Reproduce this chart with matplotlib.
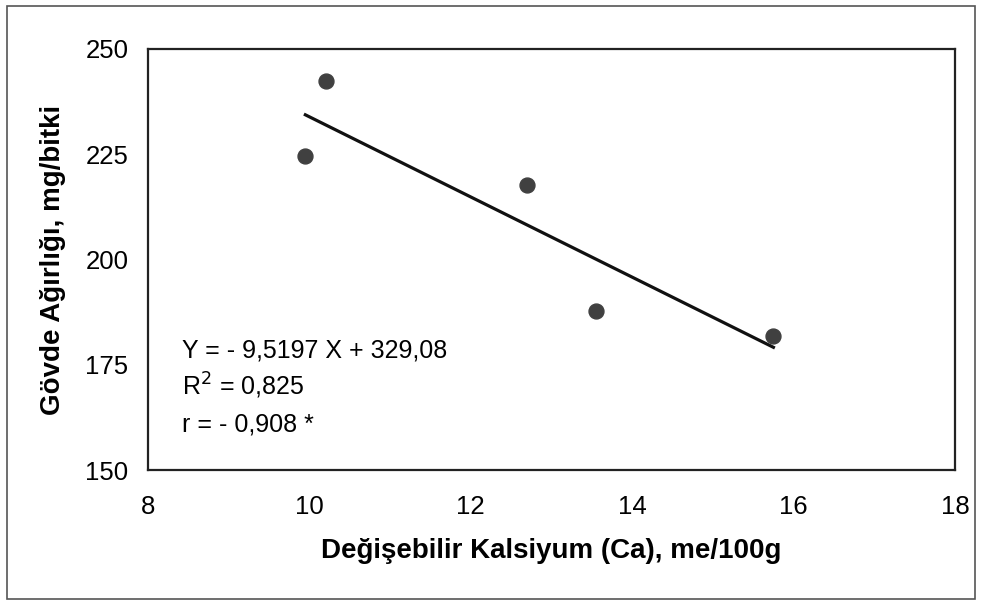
import matplotlib.pyplot as plt
from matplotlib.patches import Rectangle
import numpy as np

# data
ca = [9.95, 10.2, 12.7, 13.55, 15.75]
weight = [224.5, 242.3, 217.7, 187.7, 181.9]
slope = -9.5197
intercept = 329.08
x_ticks = [8, 10, 12, 14, 16, 18]
y_ticks = [150, 175, 200, 225, 250]
stats_lines = ["Y = - 9,5197 X + 329,08", "R$^2$ = 0,825", "r = - 0,908 *"]

plt.rcParams["font.family"] = ["Liberation Sans", "DejaVu Sans"]

fig = plt.figure(figsize=(9.82, 6.05), dpi=100)

# border round the whole figure
fig.patches.append(Rectangle((0.007, 0.01), 0.986, 0.98, transform=fig.transFigure,
                             fill=False, edgecolor="#555555", linewidth=1.2))

ax = fig.add_axes([0.1507, 0.2231, 0.8218, 0.696])

# points
ax.scatter(ca, weight, s=115, color="#404040", zorder=3)

# regression line
line_x = np.array([min(ca), max(ca)])
ax.plot(line_x, slope * line_x + intercept, color="#111111", linewidth=2.3)

# equation text, one line at a time
for txt, y in zip(stats_lines, [176.7, 167.7, 159.1]):
    ax.text(8.42, y, txt, fontsize=18, va="baseline", ha="left")

ax.set_xlim(8, 18)
ax.set_ylim(150, 250)
ax.set_xticks(x_ticks)
ax.set_yticks(y_ticks)
ax.tick_params(axis="both", labelsize=18.5, length=0)
ax.tick_params(axis="x", pad=18)
ax.tick_params(axis="y", pad=14)

for spine in ax.spines.values():
    spine.set_linewidth(1.6)
    spine.set_color("#222222")

ax.set_xlabel("Değişebilir Kalsiyum (Ca), me/100g", fontsize=20, fontweight="bold", labelpad=14)
ax.set_ylabel("Gövde Ağırlığı, mg/bitki", fontsize=20, fontweight="bold", labelpad=14)

fig.savefig("out.png", dpi=100)
